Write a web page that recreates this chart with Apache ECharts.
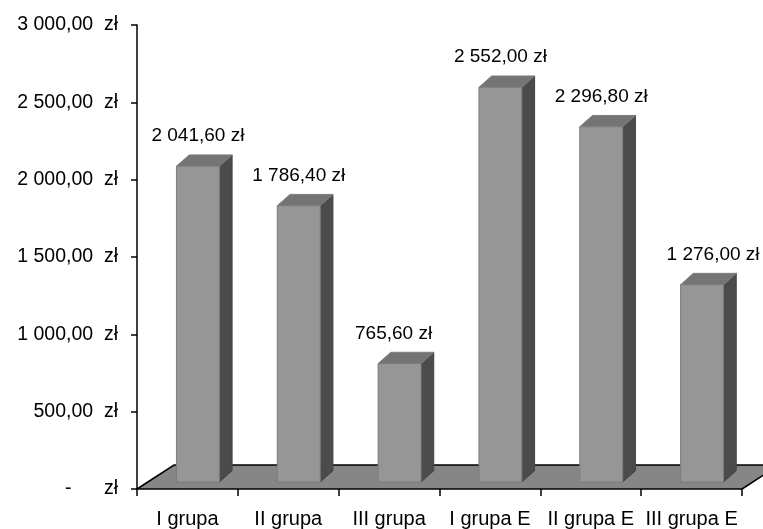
<!DOCTYPE html>
<html>
<head>
<meta charset="utf-8">
<script src="https://cdn.jsdelivr.net/npm/echarts@6/dist/echarts.min.js"></script>
<style>
  html, body { margin: 0; padding: 0; background: #ffffff; }
  #chart { width: 763px; height: 529px; }
</style>
</head>
<body>
<div id="chart"></div>
<script>
// Groups and the amount per group (PLN)
const categories = ['I grupa', 'II grupa', 'III grupa', 'I grupa E', 'II grupa E', 'III grupa E'];
const amounts = [2041.6, 1786.4, 765.6, 2552.0, 2296.8, 1276.0];
// Value axis range and step
const axisMin = 0;
const axisMax = 3000;
const axisStep = 500;

const FONT = '"Liberation Sans", Arial, sans-serif';

// Polish currency format: "2 041,60 zł"
function formatPLN(n, gap) {
  const parts = n.toFixed(2).split('.');
  const intPart = parts[0].replace(/\B(?=(\d{3})+(?!\d))/g, ' ');
  return intPart + ',' + parts[1] + gap + 'zł';
}
// Accounting style for the value axis: wider gap before the currency, zero as a dash
function formatAxis(n) {
  if (n === 0) return '-      zł';
  return formatPLN(n, '  ');
}

// 3D look: floor depth, offset of bar front plane, bar depth
const FLOOR_DX = 37, FLOOR_DY = -24;
const FRONT_DX = 10.5, FRONT_DY = -7;
const BAR_DX = 12.7, BAR_DY = -11.3;
const BAR_RATIO = 0.213;
// horizontal nudges of a few value labels (by bar index)
const LABEL_NUDGE = { 2: -6, 5: 11 };

const chart = echarts.init(document.getElementById('chart'), null, { renderer: 'canvas' });

chart.setOption({
  animation: false,
  backgroundColor: '#ffffff',
  grid: { left: 137, top: 25, right: 21, bottom: 40, containLabel: false },
  xAxis: {
    type: 'category',
    data: categories,
    z: 10,
    axisLine: { show: true, lineStyle: { color: '#000', width: 1.5 } },
    axisTick: { show: true, length: 7, lineStyle: { color: '#000', width: 1.5 } },
    axisLabel: { color: '#000', fontSize: 20, fontFamily: FONT, margin: 20, interval: 0 },
    splitLine: { show: false }
  },
  yAxis: {
    type: 'value',
    min: axisMin,
    max: axisMax,
    interval: axisStep,
    z: 10,
    axisLine: { show: true, lineStyle: { color: '#000', width: 1.5 } },
    axisTick: { show: true, length: 6, lineStyle: { color: '#000', width: 1.5 } },
    axisLabel: { color: '#000', fontSize: 19.5, fontFamily: FONT, margin: 19, formatter: formatAxis },
    splitLine: { show: false }
  },
  series: [
    {
      // floor plane
      type: 'custom',
      z: 1,
      silent: true,
      data: [[0, 0]],
      renderItem: function (params, api) {
        const cs = params.coordSys;
        const x0 = cs.x, x1 = cs.x + cs.width, yb = cs.y + cs.height;
        return {
          type: 'group',
          children: [
            {
              type: 'polygon',
              shape: { points: [[x0, yb], [x1, yb], [x1 + FLOOR_DX, yb + FLOOR_DY], [x0 + FLOOR_DX, yb + FLOOR_DY]] },
              style: { fill: '#868686' }
            },
            {
              type: 'polyline',
              shape: { points: [[x0, yb], [x0 + FLOOR_DX, yb + FLOOR_DY], [x1 + FLOOR_DX, yb + FLOOR_DY], [x1, yb]] },
              style: { stroke: '#000', lineWidth: 1.5, fill: null }
            }
          ]
        };
      }
    },
    {
      // 3D columns with value labels
      type: 'custom',
      z: 3,
      data: amounts.map(function (v, i) { return [i, v]; }),
      renderItem: function (params, api) {
        const i = api.value(0), v = api.value(1);
        const top = api.coord([i, v]);
        const base = api.coord([i, 0]);
        const hw = api.size([1, 0])[0] * BAR_RATIO;
        const cx = top[0] + FRONT_DX;
        const l = cx - hw, r = cx + hw;
        const yT = top[1] + FRONT_DY, yB = base[1] + FRONT_DY;
        return {
          type: 'group',
          children: [
            {
              type: 'polygon',
              shape: { points: [[r, yT], [r + BAR_DX, yT + BAR_DY], [r + BAR_DX, yB + BAR_DY], [r, yB]] },
              style: { fill: '#4b4b4b', stroke: '#444444', lineWidth: 1 }
            },
            {
              type: 'polygon',
              shape: { points: [[l, yT], [l + BAR_DX, yT + BAR_DY], [r + BAR_DX, yT + BAR_DY], [r, yT]] },
              style: { fill: '#747474', stroke: '#7e7e7e', lineWidth: 1 }
            },
            {
              type: 'rect',
              shape: { x: l, y: yT, width: r - l, height: yB - yT },
              style: { fill: '#969696', stroke: '#7c7c7c', lineWidth: 1 }
            },
            {
              type: 'text',
              style: {
                text: formatPLN(v, ' '),
                x: cx + (LABEL_NUDGE[i] || 0),
                y: yT + BAR_DY - 19,
                align: 'center',
                verticalAlign: 'middle',
                fill: '#000',
                font: '19px ' + FONT
              }
            }
          ]
        };
      }
    }
  ]
});
</script>
</body>
</html>
